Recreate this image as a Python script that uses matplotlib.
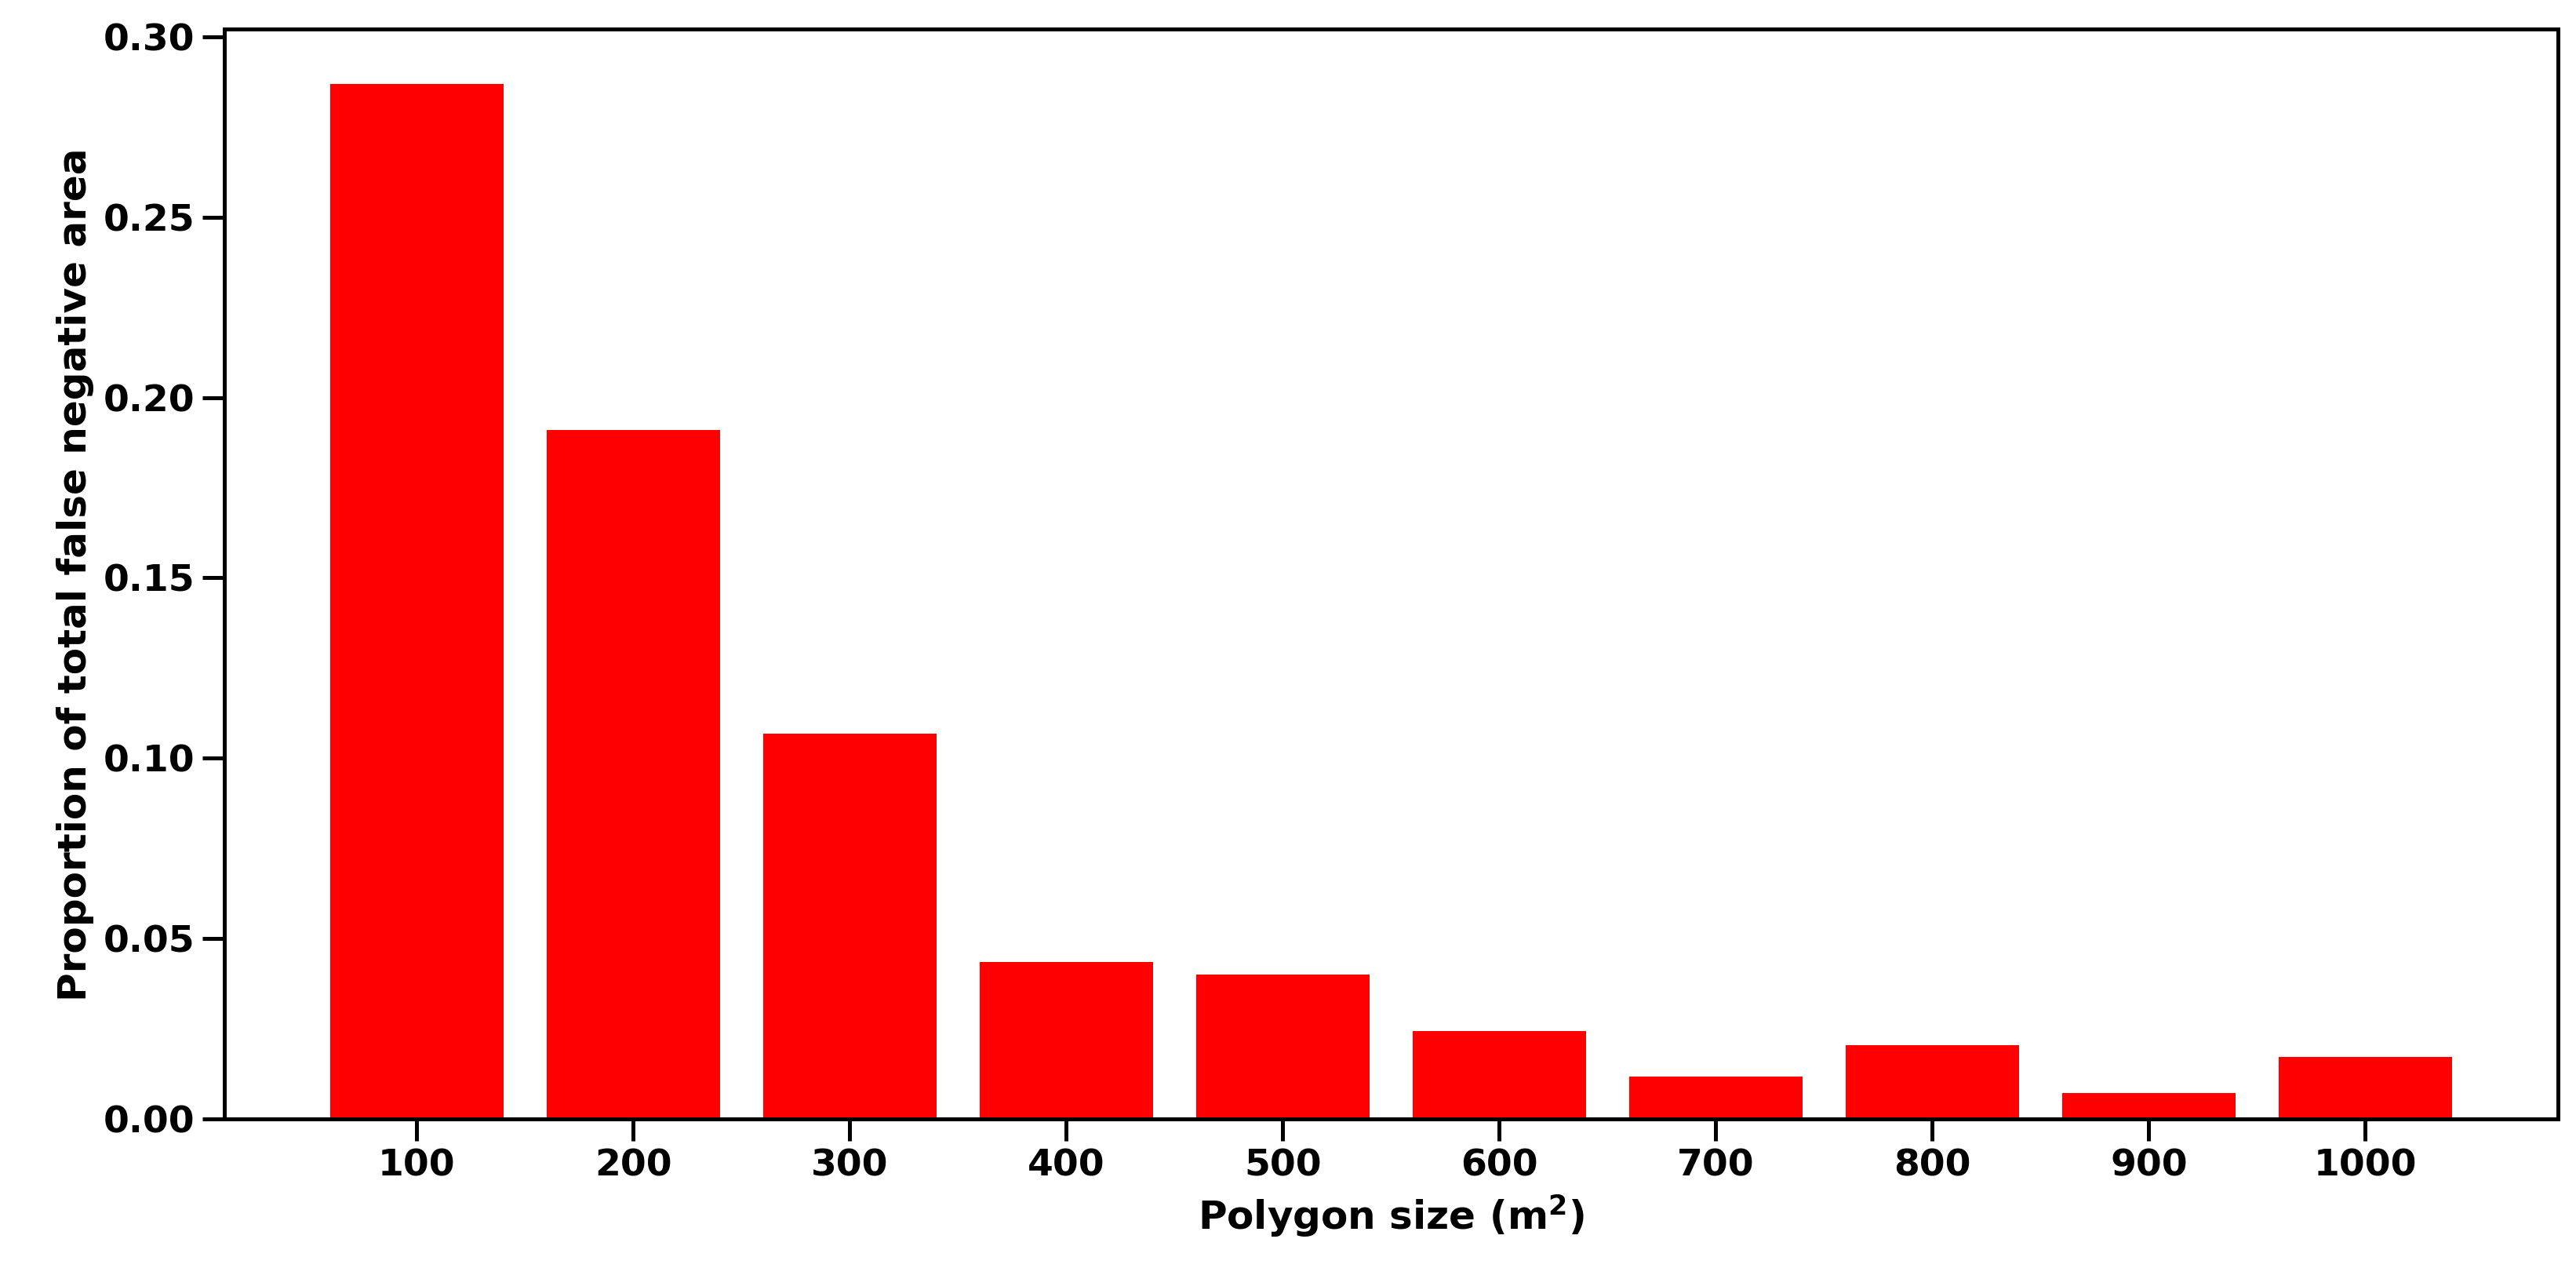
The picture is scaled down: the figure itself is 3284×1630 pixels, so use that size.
import matplotlib
matplotlib.use("Agg")
import matplotlib.pyplot as plt

sizes = [100, 200, 300, 400, 500, 600, 700, 800, 900, 1000]
props = [0.2868, 0.1909, 0.1068, 0.0436, 0.0400, 0.0245, 0.0118, 0.0205, 0.0073, 0.0173]
yticks = [0.00, 0.05, 0.10, 0.15, 0.20, 0.25, 0.30]

plt.rcParams['font.family'] = ['DejaVu Sans']
plt.rcParams['font.weight'] = 'bold'
fig = plt.figure(figsize=(16.42, 8.15), dpi=200)
ax = fig.add_axes([0.087, 0.125, 0.906, 0.852])
ax.bar(sizes, props, width=80, color='#ff0000')
ax.set_xlim(11, 1089)
ax.set_ylim(0, 0.302)
ax.set_xticks(sizes)
ax.set_xticklabels([str(s) for s in sizes])
ax.set_yticks(yticks)
ax.set_yticklabels([f"{v:.2f}" for v in yticks])
ax.tick_params(labelsize=17, width=1.8, length=10)
for lab in ax.get_xticklabels() + ax.get_yticklabels():
    lab.set_fontweight('bold')
for s in ax.spines.values():
    s.set_linewidth(1.8)
ax.set_xlabel("Polygon size (m$^\\mathbf{2}$)", fontsize=18, fontweight='bold')
ax.set_ylabel("Proportion of total false negative area", fontsize=18, fontweight='bold')
fig.savefig("out.png", dpi=200)
